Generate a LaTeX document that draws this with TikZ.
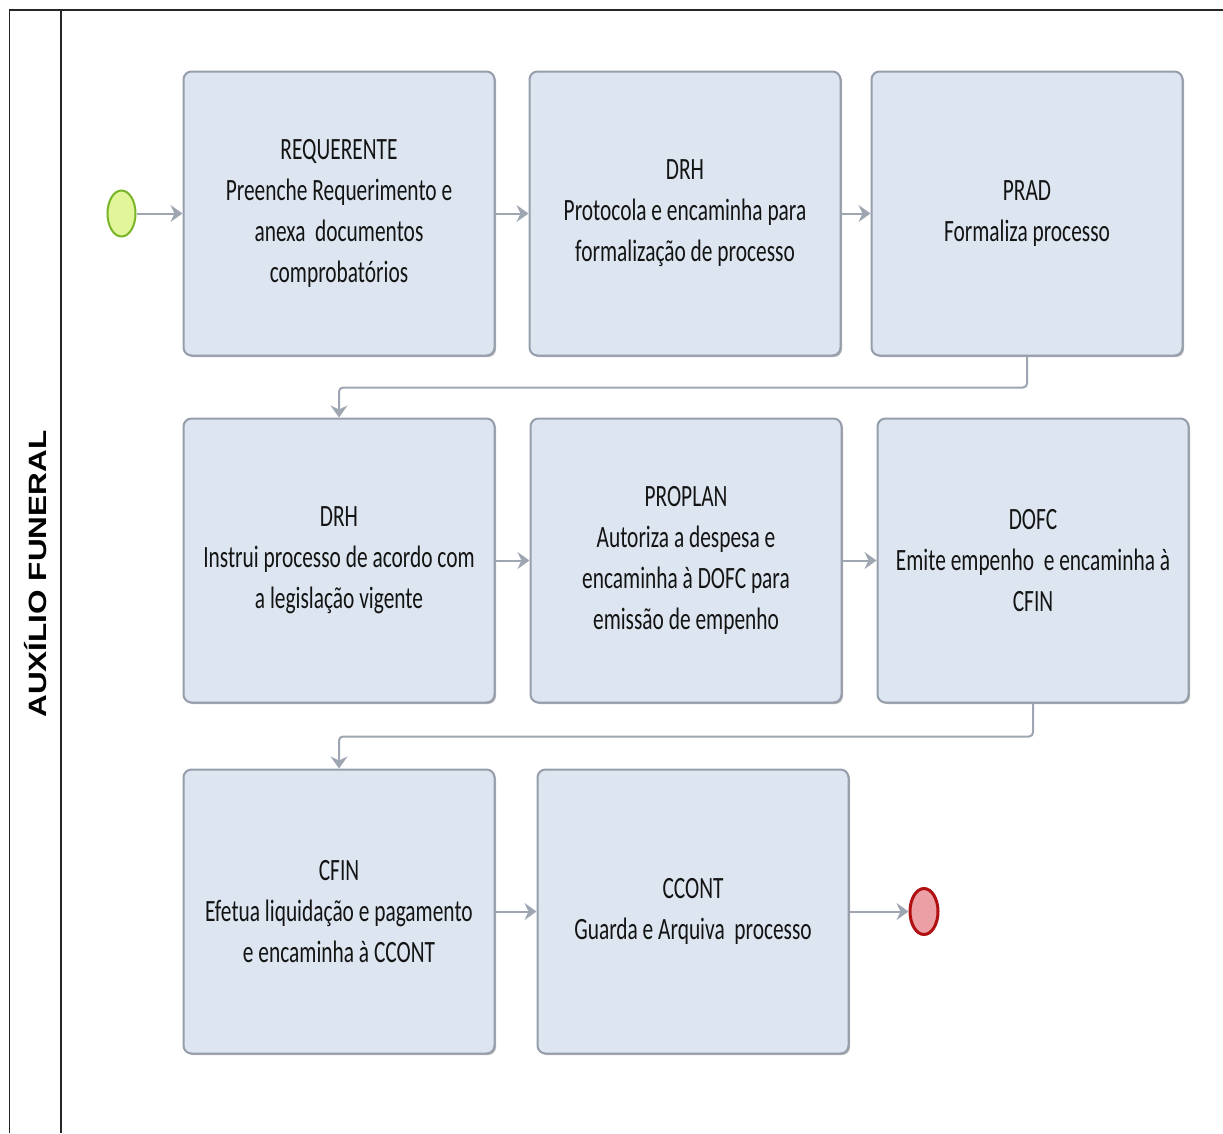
\documentclass[tikz,border=0pt]{standalone}
\usepackage{fontspec}
\newfontfamily\boxfont{Carlito}[FakeStretch=0.69]
\newfontfamily\lanefont{Liberation Sans}[FakeStretch=1.26]
\usetikzlibrary{positioning,shapes.geometric,arrows.meta,shadows}
\definecolor{boxfill}{RGB}{220,229,240}
\definecolor{boxline}{RGB}{150,158,172}
\definecolor{flowline}{RGB}{158,166,178}
\definecolor{startfill}{RGB}{224,246,152}
\definecolor{startline}{RGB}{122,180,40}
\definecolor{endfill}{RGB}{234,160,164}
\definecolor{endline}{RGB}{176,16,16}
\tikzset{
	task/.style={draw=boxline,fill=boxfill,line width=2pt,rounded corners=8pt,
		minimum width=311pt,minimum height=284pt,align=center,text=black!92,
		font=\boxfont\fontsize{31}{41}\selectfont,
		drop shadow={shadow xshift=1.5pt,shadow yshift=-1.5pt,fill=black!30,opacity=1}},
	startev/.style={ellipse,draw=startline,fill=startfill,line width=2pt,
		minimum width=28pt,minimum height=46pt,inner sep=0pt},
	endev/.style={ellipse,draw=endline,fill=endfill,line width=3pt,
		minimum width=28pt,minimum height=46pt,inner sep=0pt},
	flow/.style={draw,color=flowline,line width=2pt,
		-{Stealth[length=12pt,width=17pt,inset=4pt]}}
}
\begin{document}
\begin{tikzpicture}[x=1pt,y=1pt]
	\useasboundingbox (0,0) rectangle (1223,-1133);
	\draw[line width=1.8pt,black!85] (9.5,-1133) -- (9.5,-10) -- (1223,-10);
	\draw[line width=1.8pt,black!85] (61,-10) -- (61,-1133);
	\node[rotate=90,font=\lanefont\bfseries\fontsize{25}{30}\selectfont] (lane) at (36,-574) {AUXÍLIO FUNERAL};

	\node[task] (req) at (339,-213.5) {REQUERENTE\\Preenche Requerimento e\\anexa\ \ documentos\\comprobatórios};
	\node[task,right=33pt of req] (drh1) {DRH\\Protocola e encaminha para\\formalização de processo};
	\node[task,right=29pt of drh1] (prad) {PRAD\\Formaliza processo};
	\node[task,below=61pt of req] (drh2) {DRH\\Instrui processo de acordo com\\a legislação vigente};
	\node[task,right=34pt of drh2] (proplan) {PROPLAN\\Autoriza a despesa e\\encaminha à DOFC para\\emissão de empenho};
	\node[task,right=34pt of proplan] (dofc) {DOFC\\Emite empenho\ \ e encaminha à\\CFIN};
	\node[task,below=65pt of drh2] (cfin) {CFIN\\Efetua liquidação e pagamento\\e encaminha à CCONT};
	\node[task,right=41pt of cfin] (ccont) {CCONT\\Guarda e Arquiva\ \ processo};

	\node[startev,left=46pt of req] (start) {};
	\node[endev,right=59pt of ccont] (end) {};

	\path[flow]
	(start) edge (req)
	(req) edge (drh1)
	(drh1) edge (prad)
	(drh2) edge (proplan)
	(proplan) edge (dofc)
	(cfin) edge (ccont)
	(ccont) edge (end);
	\draw[flow] (prad.south) [rounded corners=4pt] -- ++(0,-31) -| (drh2.north) [sharp corners];
	\draw[flow] (dofc.south) [rounded corners=4pt] -- ++(0,-33) -| (cfin.north) [sharp corners];
\end{tikzpicture}
\end{document}
